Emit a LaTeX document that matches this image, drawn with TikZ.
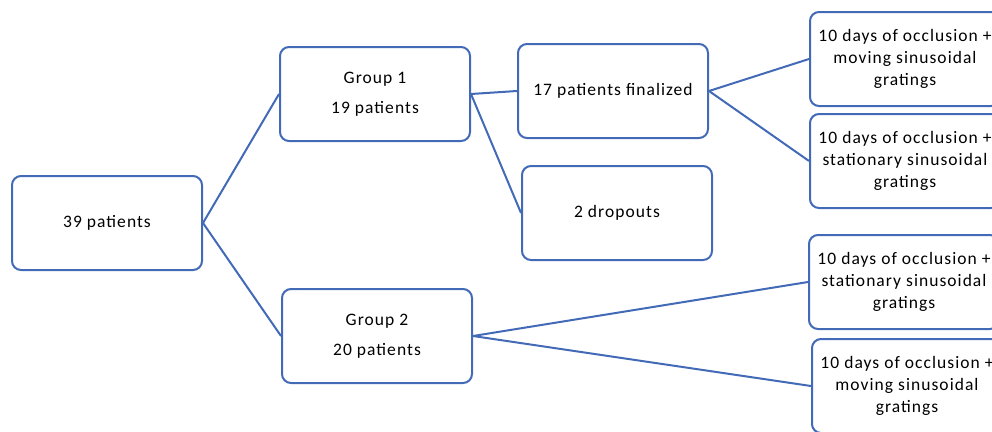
\documentclass[tikz,border=0pt]{standalone}
\usepackage{fontspec}
\setmainfont[LetterSpace=6]{Carlito}
\definecolor{boxblue}{RGB}{66,106,182}
\begin{document}
\begin{tikzpicture}[x=1pt,y=-1pt,
	box/.style={draw=boxblue, line width=2pt, rounded corners=9pt, fill=white,
		minimum width=190pt, minimum height=94pt, inner sep=0pt, align=center,
		font=\fontsize{17.5}{22}\selectfont},
	link/.style={draw=boxblue, line width=2pt}]
		\useasboundingbox (0,0) rectangle (992,431);
		\clip (0,0) rectangle (992,431);
		
		\node[box] (all) at (107,223) {39 patients};
		
		\node[box] (g1) at (375,94) {Group 1\\[8pt]19 patients};
		\node[box] (g2) at (377,336) {Group 2\\[8pt]20 patients};
		
		\node[box] (fin) at (613,91) {17 patients finalized};
		\node[box] (drop) at (617,213) {2 dropouts};
		
		\node[box] (m1) at (905,59) {10 days of occlusion +\\moving sinusoidal\\gratings};
		\node[box] (s1) at (905,161) {10 days of occlusion +\\stationary sinusoidal\\gratings};
		\node[box] (s2) at (904,282) {10 days of occlusion +\\stationary sinusoidal\\gratings};
		\node[box] (m2) at (907,386) {10 days of occlusion +\\moving sinusoidal\\gratings};
		
		\foreach \from/\to in {all/g1,all/g2,g1/fin,g1/drop,fin/m1,fin/s1,g2/s2,g2/m2}
		\draw[link] (\from.east) -- (\to.west);
		\end{tikzpicture}
\end{document}
